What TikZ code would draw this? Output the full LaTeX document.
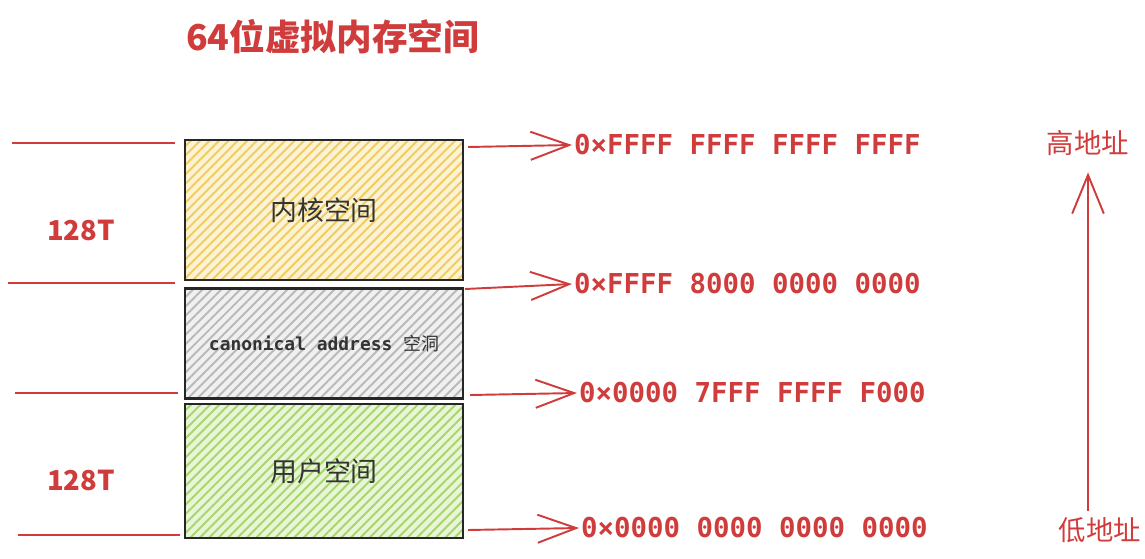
\documentclass[tikz,border=0pt]{standalone}
\usepackage{fontspec}
\usetikzlibrary{arrows.meta,positioning,patterns.meta}
\newfontfamily\cjk{Noto Sans CJK SC}
\newfontfamily\addrfont{DejaVu Sans Mono}
\definecolor{memred}{RGB}{208,60,60}
\definecolor{kernfill}{RGB}{252,243,212}
\definecolor{kernline}{RGB}{240,204,98}
\definecolor{holefill}{RGB}{240,240,240}
\definecolor{holeline}{RGB}{185,185,185}
\definecolor{userfill}{RGB}{232,245,214}
\definecolor{userline}{RGB}{168,214,110}
\tikzset{
  region/.style={draw=black!85, line width=1.4pt, minimum width=5.56cm, inner sep=0pt,
    font=\cjk\fontsize{15.3}{18}\selectfont, text=black!80},
  hatch/.style 2 args={preaction={fill=#1}, preaction={pattern={Lines[angle=45,distance=3.8pt,line width=1.1pt]}, pattern color=#2}},
  addr/.style={font=\addrfont\bfseries\fontsize{15.6}{18}\selectfont, text=memred, anchor=west, inner sep=1pt},
  size/.style={font=\cjk\fontsize{15.6}{18}\selectfont, text=memred},
  markline/.style={memred, line width=1.1pt},
  ptr/.style={memred, line width=1.1pt, -{Straight Barb[length=22pt,width=16pt,line width=1.1pt]}}
}

\begin{document}
\begin{tikzpicture}[x=0.02cm,y=-0.02cm]
  \useasboundingbox (0,0) rectangle (1145,558);
  \node[font=\cjk\bfseries\fontsize{20.3}{24}\selectfont, text=memred, anchor=west] (title) at (180,37) {64位虚拟内存空间};

  % the three regions
  \node[region, hatch={kernfill}{kernline}, minimum height=2.8cm] (kernel) at (324,210) {内核空间};
  \node[region, hatch={holefill}{holeline}, minimum height=2.2cm, below=0.12cm of kernel,
    font=\addrfont\bfseries\fontsize{10.2}{12}\selectfont] (hole) {canonical address {\cjk\mdseries 空洞}};
  \node[region, hatch={userfill}{userline}, minimum height=2.68cm, below=0.06cm of hole] (user) {用户空间};

  % boundaries on the left
  \foreach \y/\a/\b in {143/12/175, 283/8/175, 393/15/178, 535/18/180}
    \draw[markline] (\a,\y) -- (\b,\y);
  \node[size, font=\cjk\bfseries\fontsize{15.6}{18}\selectfont] (kernsize) at (81,230) {128T};
  \node[size, font=\cjk\bfseries\fontsize{15.6}{18}\selectfont] (usersize) at (81,480) {128T};

  % addresses
  \node[addr] (aTop) at (572,145) {0×FFFF FFFF FFFF FFFF};
  \node[addr] (aKern) at (572,284) {0×FFFF 8000 0000 0000};
  \node[addr] (aUser) at (577,393) {0×0000 7FFF FFFF F000};
  \node[addr] (aLow) at (579,528) {0×0000 0000 0000 0000};
  \coordinate (tTop) at (468,147);
  \coordinate (tKern) at (465,289);
  \coordinate (tUser) at (470,395);
  \coordinate (tLow) at (468,530);
  \draw[ptr] (tTop) -- (aTop.west);
  \draw[ptr] (tKern) -- (aKern.west);
  \draw[ptr] (tUser) -- (aUser.west);
  \draw[ptr] (tLow) -- (aLow.west);

  % direction
  \node[size] (hi) at (1088,143) {高地址};
  \node[size] (lo) at (1100,530) {低地址};
  \draw[ptr, shorten >=6pt, -{Straight Barb[length=22pt,width=18pt,line width=1.1pt]}] (lo.north -| hi) -- (hi.south);
\end{tikzpicture}
\end{document}
